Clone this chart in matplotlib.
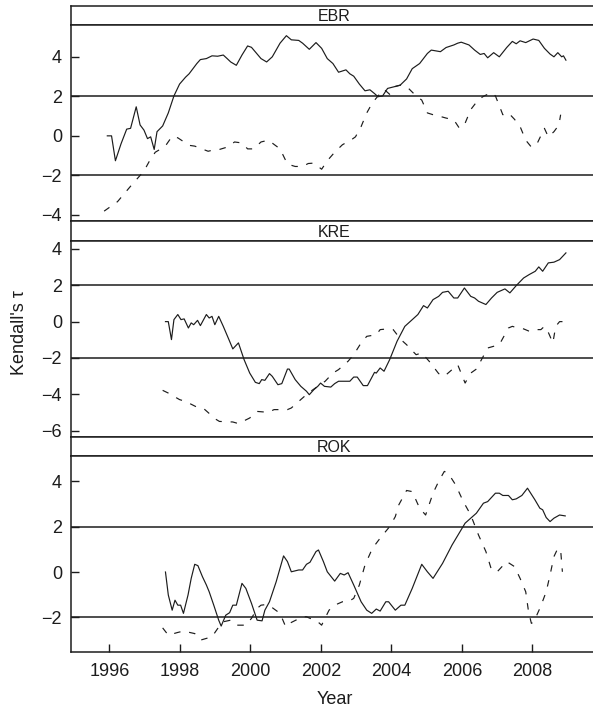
import matplotlib.pyplot as plt

plt.rcParams['font.family'] = ['Liberation Sans', 'DejaVu Sans']

sites = ['EBR', 'KRE', 'ROK']

# EBR
ebr_solid_year = [1995.94, 1996.06, 1996.17, 1996.33, 1996.49, 1996.60, 1996.76, 1996.87, 1996.98, 1997.08,
                  1997.17, 1997.27, 1997.35, 1997.51, 1997.67, 1997.83, 1997.99, 1998.16, 1998.26, 1998.48,
                  1998.58, 1998.75, 1998.91, 1999.07, 1999.23, 1999.34, 1999.44, 1999.60, 1999.76, 1999.92,
                  2000.03, 2000.30, 2000.46, 2000.62, 2000.84, 2001.02, 2001.16, 2001.37, 2001.48, 2001.67,
                  2001.86, 2002.02, 2002.18, 2002.34, 2002.50, 2002.71, 2002.82, 2002.93, 2003.09, 2003.25,
                  2003.39, 2003.52, 2003.62, 2003.75, 2003.89, 2004.00, 2004.11, 2004.25, 2004.43, 2004.59,
                  2004.80, 2005.02, 2005.13, 2005.23, 2005.39, 2005.55, 2005.77, 2005.88, 2005.98, 2006.20,
                  2006.36, 2006.52, 2006.63, 2006.73, 2006.90, 2007.06, 2007.27, 2007.43, 2007.54, 2007.65,
                  2007.81, 2008.02, 2008.18, 2008.34, 2008.50, 2008.61, 2008.72, 2008.83, 2008.88, 2008.95]
ebr_solid_tau = [0, 0, -1.26, -0.40, 0.34, 0.38, 1.47, 0.55, 0.29, -0.14,
                 -0.05, -0.69, 0.21, 0.50, 1.16, 2.02, 2.62, 2.97, 3.14, 3.66,
                 3.86, 3.91, 4.05, 4.03, 4.09, 3.91, 3.74, 3.57, 4.09, 4.55,
                 4.48, 3.91, 3.74, 4.00, 4.69, 5.07, 4.86, 4.83, 4.69, 4.38,
                 4.72, 4.43, 3.91, 3.66, 3.22, 3.34, 3.14, 3.02, 2.62, 2.28,
                 2.33, 2.14, 1.98, 2.02, 2.40, 2.45, 2.50, 2.57, 2.88, 3.40,
                 3.66, 4.17, 4.34, 4.31, 4.26, 4.47, 4.60, 4.69, 4.74, 4.60,
                 4.34, 4.12, 4.17, 3.95, 4.21, 4.00, 4.47, 4.78, 4.66, 4.81,
                 4.72, 4.90, 4.83, 4.43, 4.14, 4.00, 4.21, 4.00, 4.05, 3.83]
ebr_dash_year = [1995.85, 1996.23, 1996.60, 1996.98, 1997.14, 1997.30, 1997.46, 1997.62, 1997.78, 1997.94,
                 1998.26, 1998.42, 1998.80, 1998.96, 1999.12, 1999.34, 1999.55, 1999.76, 1999.92, 2000.09,
                 2000.30, 2000.51, 2000.84, 2001.05, 2001.27, 2001.48, 2001.64, 2001.80, 2002.02, 2002.18,
                 2002.39, 2002.61, 2002.87, 2002.98, 2003.14, 2003.30, 2003.46, 2003.62, 2003.79, 2003.95,
                 2004.11, 2004.27, 2004.43, 2004.70, 2004.86, 2005.02, 2005.18, 2005.39, 2005.55, 2005.77,
                 2005.93, 2006.09, 2006.25, 2006.47, 2006.63, 2006.84, 2006.95, 2007.16, 2007.32, 2007.49,
                 2007.65, 2007.81, 2007.97, 2008.13, 2008.34, 2008.45, 2008.61, 2008.75, 2008.80]
ebr_dash_tau = [-3.81, -3.33, -2.55, -1.78, -1.26, -0.83, -0.66, -0.43, -0.02, -0.10,
                -0.48, -0.52, -0.78, -0.71, -0.69, -0.57, -0.31, -0.36, -0.66, -0.66,
                -0.31, -0.22, -0.66, -1.43, -1.55, -1.55, -1.40, -1.38, -1.69, -1.26,
                -0.83, -0.45, -0.19, -0.05, 0.47, 1.16, 1.67, 2.02, 2.36, 2.10,
                2.50, 2.57, 2.50, 2.02, 1.81, 1.16, 1.07, 0.98, 0.90, 0.81,
                0.38, 0.64, 1.33, 1.84, 2.02, 2.19, 2.02, 1.07, 1.16, 0.84,
                0.47, -0.22, -0.57, -0.40, 0.38, -0.05, 0.21, 0.55, 1.07]

# KRE
kre_solid_year = [1997.59, 1997.67, 1997.76, 1997.83, 1997.94, 1998.03, 1998.12, 1998.24, 1998.32, 1998.39,
                  1998.50, 1998.58, 1998.75, 1998.83, 1998.91, 1998.99, 1999.10, 1999.23, 1999.39, 1999.50,
                  1999.66, 1999.82, 1999.98, 2000.14, 2000.25, 2000.32, 2000.41, 2000.54, 2000.62, 2000.78,
                  2000.89, 2001.05, 2001.10, 2001.27, 2001.43, 2001.59, 2001.67, 2001.80, 2001.91, 2001.99,
                  2002.10, 2002.28, 2002.39, 2002.50, 2002.82, 2002.93, 2003.03, 2003.20, 2003.32, 2003.52,
                  2003.57, 2003.68, 2003.79, 2003.95, 2004.16, 2004.38, 2004.54, 2004.75, 2004.91, 2005.02,
                  2005.18, 2005.34, 2005.45, 2005.61, 2005.77, 2005.88, 2006.07, 2006.25, 2006.36, 2006.47,
                  2006.68, 2006.84, 2007.00, 2007.22, 2007.36, 2007.54, 2007.75, 2007.91, 2008.08, 2008.18,
                  2008.29, 2008.45, 2008.61, 2008.77, 2008.95]
kre_solid_tau = [0, 0, -0.99, 0.11, 0.39, 0.11, 0.15, -0.35, -0.07, -0.17,
                 0.07, -0.22, 0.39, 0.20, 0.29, -0.17, 0.29, -0.26, -0.99, -1.50,
                 -1.17, -2.09, -2.83, -3.34, -3.41, -3.19, -3.23, -2.86, -3.01, -3.47,
                 -3.41, -2.61, -2.61, -3.19, -3.56, -3.83, -4.02, -3.74, -3.56, -3.38,
                 -3.56, -3.60, -3.41, -3.28, -3.28, -3.05, -3.05, -3.52, -3.52, -2.79,
                 -2.83, -2.55, -2.73, -2.09, -1.08, -0.26, 0.02, 0.39, 0.88, 0.75,
                 1.21, 1.39, 1.61, 1.67, 1.30, 1.30, 1.85, 1.39, 1.30, 1.12,
                 0.94, 1.30, 1.61, 1.80, 1.58, 1.98, 2.40, 2.59, 2.77, 3.01,
                 2.77, 3.23, 3.27, 3.41, 3.78]
kre_dash_year = [1997.51, 1997.67, 1997.99, 1998.16, 1998.53, 1998.69, 1999.01, 1999.12, 1999.50, 1999.66,
                 1999.98, 2000.19, 2000.51, 2000.67, 2001.05, 2001.16, 2001.48, 2001.64, 2001.91, 2002.12,
                 2002.34, 2002.50, 2002.77, 2002.93, 2003.14, 2003.30, 2003.57, 2003.68, 2003.89, 2004.05,
                 2004.27, 2004.43, 2004.70, 2004.86, 2005.07, 2005.34, 2005.50, 2005.72, 2005.88, 2006.09,
                 2006.25, 2006.41, 2006.63, 2006.73, 2007.06, 2007.32, 2007.43, 2007.59, 2007.75, 2007.91,
                 2008.08, 2008.24, 2008.34, 2008.45, 2008.58, 2008.66, 2008.77, 2008.86]
kre_dash_tau = [-3.78, -3.93, -4.29, -4.39, -4.75, -4.81, -5.36, -5.49, -5.52, -5.61,
                -5.30, -4.94, -4.99, -4.84, -4.84, -4.75, -4.20, -3.93, -3.56, -3.28,
                -2.83, -2.64, -2.18, -1.82, -1.17, -0.81, -0.72, -0.44, -0.40, -0.44,
                -0.99, -1.27, -1.82, -1.72, -2.18, -2.86, -3.01, -2.64, -2.37, -3.38,
                -2.83, -2.61, -1.82, -1.45, -1.27, -0.35, -0.26, -0.35, -0.40, -0.53,
                -0.44, -0.44, -0.26, -0.59, -1.17, -0.26, 0, 0]

# ROK
rok_solid_year = [1997.59, 1997.67, 1997.78, 1997.86, 1997.94, 1998.02, 1998.10, 1998.23, 1998.32, 1998.42,
                  1998.51, 1998.64, 1998.75, 1998.83, 1998.96, 1999.10, 1999.17, 1999.30, 1999.41, 1999.50,
                  1999.60, 1999.76, 1999.87, 2000.03, 2000.19, 2000.33, 2000.41, 2000.54, 2000.73, 2000.94,
                  2001.05, 2001.16, 2001.37, 2001.48, 2001.59, 2001.69, 2001.86, 2001.93, 2002.07, 2002.18,
                  2002.39, 2002.55, 2002.66, 2002.77, 2002.93, 2003.14, 2003.30, 2003.44, 2003.57, 2003.68,
                  2003.84, 2003.92, 2004.11, 2004.27, 2004.38, 2004.59, 2004.86, 2005.02, 2005.18, 2005.45,
                  2005.72, 2006.09, 2006.25, 2006.41, 2006.61, 2006.73, 2006.95, 2007.06, 2007.16, 2007.32,
                  2007.43, 2007.54, 2007.70, 2007.86, 2008.07, 2008.21, 2008.29, 2008.39, 2008.50, 2008.61,
                  2008.77, 2008.93]
rok_solid_tau = [0, -1.01, -1.68, -1.24, -1.46, -1.46, -1.82, -1.01, -0.28, 0.34,
                 0.28, -0.21, -0.57, -0.87, -1.46, -2.12, -2.38, -1.90, -1.79, -1.46,
                 -1.46, -0.50, -0.72, -1.38, -2.12, -2.15, -1.68, -1.31, -0.43, 0.71,
                 0.46, 0.01, 0.09, 0.09, 0.34, 0.43, 0.90, 0.97, 0.46, 0.01,
                 -0.40, -0.06, -0.13, -0.03, -0.57, -1.31, -1.68, -1.82, -1.63, -1.72,
                 -1.31, -1.31, -1.68, -1.46, -1.46, -0.72, 0.34, 0.01, -0.28, 0.38,
                 1.19, 2.15, 2.37, 2.59, 3.03, 3.10, 3.47, 3.47, 3.37, 3.37,
                 3.18, 3.22, 3.37, 3.69, 3.18, 2.81, 2.74, 2.40, 2.22, 2.37,
                 2.51, 2.47]
rok_dash_year = [1997.51, 1997.67, 1997.94, 1998.10, 1998.42, 1998.58, 1998.91, 1999.07, 1999.23, 1999.44,
                 1999.60, 1999.87, 2000.03, 2000.19, 2000.30, 2000.46, 2000.62, 2000.84, 2001.00, 2001.16,
                 2001.48, 2001.59, 2001.91, 2002.02, 2002.23, 2002.39, 2002.61, 2002.77, 2002.93, 2003.09,
                 2003.25, 2003.46, 2003.68, 2003.95, 2004.11, 2004.21, 2004.43, 2004.59, 2004.80, 2004.97,
                 2005.18, 2005.34, 2005.50, 2005.61, 2005.82, 2006.04, 2006.25, 2006.47, 2006.68, 2006.84,
                 2007.00, 2007.27, 2007.49, 2007.65, 2007.81, 2007.89, 2007.97, 2008.04, 2008.23, 2008.39,
                 2008.50, 2008.61, 2008.72, 2008.80, 2008.85]
rok_dash_tau = [-2.46, -2.78, -2.66, -2.60, -2.71, -3.00, -2.85, -2.49, -2.19, -2.12,
                -2.34, -2.34, -2.04, -1.60, -1.46, -1.43, -1.57, -1.82, -2.41, -2.22,
                -1.97, -1.97, -2.19, -2.34, -1.68, -1.46, -1.31, -1.31, -1.16, -0.57,
                0.31, 1.04, 1.49, 2.00, 2.44, 2.96, 3.59, 3.54, 2.81, 2.51,
                3.47, 3.99, 4.43, 4.35, 3.84, 3.10, 2.51, 1.63, 0.90, 0.09,
                0.01, 0.46, 0.24, -0.28, -0.87, -1.75, -2.26, -2.19, -1.53, -0.87,
                -0.13, 0.68, 1.04, 0.97, 0.01]

y_ticks = [[-4, -2, 0, 2, 4], [-6, -4, -2, 0, 2, 4], [-2, 0, 2, 4]]
y_lims = [(-4.32, 5.59), (-6.33, 4.44), (-3.53, 5.09)]
x_ticks = [1996, 1998, 2000, 2002, 2004, 2006, 2008]

series = {
    'EBR': (ebr_solid_year, ebr_solid_tau, ebr_dash_year, ebr_dash_tau),
    'KRE': (kre_solid_year, kre_solid_tau, kre_dash_year, kre_dash_tau),
    'ROK': (rok_solid_year, rok_solid_tau, rok_dash_year, rok_dash_tau),
}

W, H = 593.0, 712.0
fig = plt.figure(figsize=(W / 100, H / 100), dpi=100)

ink = '#1c1c1c'
left, right = 71.0, 598.0   # panel extends a little past the image edge
top = 5.7
strip_h, panel_h = 19.7, 195.8

for i, site in enumerate(sites):
    s_top = top + i * (strip_h + panel_h)
    p_top = s_top + strip_h

    # strip with the site name
    sax = fig.add_axes([left / W, 1 - p_top / H, (right - left) / W, strip_h / H])
    sax.set_xticks([])
    sax.set_yticks([])
    sax.spines['right'].set_visible(False)
    for sp in sax.spines.values():
        sp.set_linewidth(1.1)
        sp.set_color(ink)
    sax.text(0.5, 0.45, site, transform=sax.transAxes, ha='center', va='center',
             fontsize=11.5, color=ink)

    ax = fig.add_axes([left / W, 1 - (p_top + panel_h) / H, (right - left) / W, panel_h / H])
    sy, st, dy, dt = series[site]
    ax.plot(sy, st, color=ink, lw=0.85)
    ax.plot(dy, dt, color=ink, lw=0.85, linestyle=(0, (5.5, 7.5)))
    ax.axhline(2, color=ink, lw=1.1)
    ax.axhline(-2, color=ink, lw=1.1)

    ax.set_xlim(1994.91, 2009.86)
    ax.set_ylim(*y_lims[i])
    ax.set_yticks(y_ticks[i])
    ax.tick_params(axis='y', direction='in', length=5.8, width=1.0, pad=6.5,
                   labelsize=13, color=ink, labelcolor=ink)
    ax.spines['right'].set_visible(False)
    for sp in ax.spines.values():
        sp.set_linewidth(1.1)
        sp.set_color(ink)

    if i == len(sites) - 1:
        ax.set_xticks(x_ticks)
        ax.tick_params(axis='x', direction='in', length=5.8, width=1.0, pad=7.5,
                       labelsize=13, color=ink, labelcolor=ink)
    else:
        ax.set_xticks([])

fig.text(19.5 / W, 1 - 333 / H, "Kendall's τ", rotation=90, ha='center', va='center',
         fontsize=13, color=ink)
fig.text(334.5 / W, 1 - 700 / H, 'Year', ha='center', va='center', fontsize=13, color=ink)

fig.savefig('out.png', dpi=100)
